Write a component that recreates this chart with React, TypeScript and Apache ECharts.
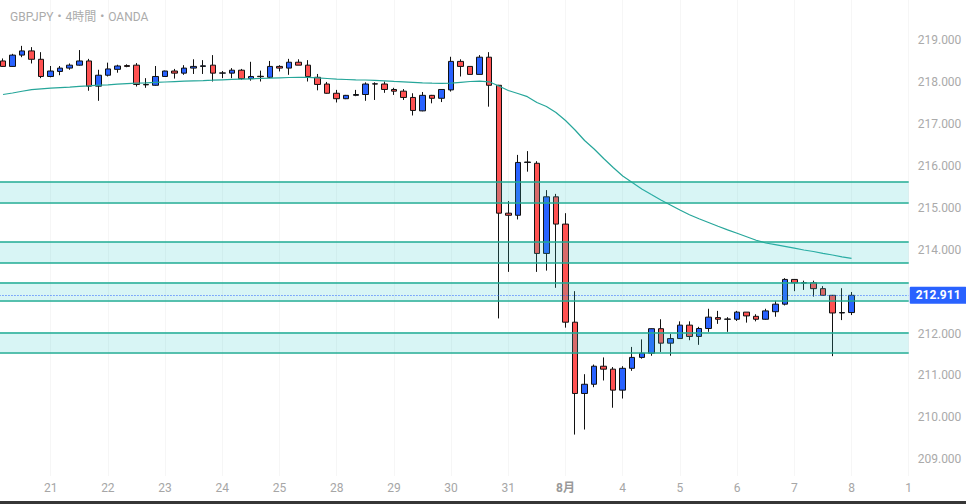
import React, { useEffect, useRef } from 'react';
import * as echarts from 'echarts';

// [open, high, low, close] per 4h candle
const candlesOHLC: number[][] = [
  [218.50, 218.56, 218.36, 218.37],
  [218.37, 218.67, 218.36, 218.64],
  [218.64, 218.86, 218.59, 218.74],
  [218.74, 218.83, 218.44, 218.54],
  [218.54, 218.71, 218.09, 218.13],
  [218.13, 218.38, 218.11, 218.26],
  [218.25, 218.38, 218.16, 218.33],
  [218.33, 218.44, 218.29, 218.40],
  [218.40, 218.76, 218.39, 218.50],
  [218.50, 218.55, 217.79, 217.90],
  [217.90, 218.29, 217.55, 218.16],
  [218.16, 218.46, 218.13, 218.31],
  [218.30, 218.41, 218.22, 218.38],
  [218.39, 218.42, 218.35, 218.37],
  [218.40, 218.45, 217.89, 217.94],
  [217.94, 218.09, 217.86, 217.93],
  [217.92, 218.38, 217.91, 218.13],
  [218.13, 218.27, 218.13, 218.26],
  [218.26, 218.31, 218.08, 218.21],
  [218.21, 218.40, 218.17, 218.33],
  [218.33, 218.54, 218.19, 218.37],
  [218.37, 218.52, 218.19, 218.385],
  [218.40, 218.64, 218.01, 218.21],
  [218.21, 218.26, 218.09, 218.215],
  [218.21, 218.33, 218.09, 218.28],
  [218.28, 218.31, 218.05, 218.08],
  [218.08, 218.48, 218.03, 218.13],
  [218.135, 218.27, 218.01, 218.125],
  [218.11, 218.50, 218.09, 218.37],
  [218.37, 218.40, 218.25, 218.33],
  [218.33, 218.55, 218.17, 218.47],
  [218.47, 218.54, 218.40, 218.40],
  [218.40, 218.52, 218.01, 218.13],
  [218.11, 218.19, 217.80, 217.94],
  [217.95, 218.00, 217.72, 217.73],
  [217.73, 217.81, 217.51, 217.60],
  [217.60, 217.69, 217.59, 217.68],
  [217.68, 217.81, 217.66, 217.70],
  [217.70, 217.99, 217.55, 217.95],
  [217.95, 217.99, 217.57, 217.955],
  [217.95, 218.01, 217.74, 217.82],
  [217.82, 217.86, 217.69, 217.78],
  [217.78, 217.83, 217.57, 217.63],
  [217.63, 217.73, 217.20, 217.32],
  [217.31, 217.76, 217.30, 217.68],
  [217.68, 217.69, 217.49, 217.61],
  [217.61, 217.83, 217.52, 217.82],
  [217.81, 218.60, 217.77, 218.49],
  [218.49, 218.54, 218.13, 218.37],
  [218.37, 218.37, 218.18, 218.18],
  [218.18, 218.64, 218.18, 218.59],
  [218.59, 218.71, 217.41, 217.92],
  [217.92, 217.93, 212.36, 214.87],
  [214.87, 215.16, 213.47, 214.82],
  [214.82, 216.26, 214.72, 216.08],
  [216.08, 216.35, 215.86, 216.09],
  [216.06, 216.11, 213.47, 213.91],
  [213.91, 215.42, 213.50, 215.26],
  [215.26, 215.33, 213.09, 214.61],
  [214.61, 214.87, 212.14, 212.27],
  [212.27, 213.01, 209.59, 210.57],
  [210.57, 211.03, 209.71, 210.79],
  [210.79, 211.26, 210.72, 211.22],
  [211.22, 211.43, 210.88, 211.15],
  [211.15, 211.20, 210.23, 210.65],
  [210.65, 211.22, 210.45, 211.17],
  [211.17, 211.68, 211.11, 211.43],
  [211.43, 211.86, 211.40, 211.53],
  [211.53, 212.12, 211.47, 212.115],
  [212.115, 212.34, 211.56, 211.77],
  [211.77, 211.99, 211.47, 211.88],
  [211.88, 212.29, 211.87, 212.20],
  [212.20, 212.29, 211.84, 211.93],
  [211.93, 212.16, 211.73, 212.12],
  [212.12, 212.59, 212.04, 212.39],
  [212.38, 212.54, 212.23, 212.34],
  [212.34, 212.39, 212.04, 212.345],
  [212.34, 212.54, 212.30, 212.51],
  [212.51, 212.51, 212.26, 212.42],
  [212.41, 212.46, 212.29, 212.34],
  [212.34, 212.59, 212.33, 212.54],
  [212.52, 212.78, 212.40, 212.70],
  [212.70, 213.32, 212.67, 213.29],
  [213.29, 213.30, 213.01, 213.21],
  [213.21, 213.26, 213.04, 213.205],
  [213.21, 213.26, 212.88, 213.07],
  [213.07, 213.13, 212.90, 212.911],
  [212.911, 212.92, 211.46, 212.49],
  [212.49, 213.08, 212.32, 212.50],
  [212.50, 212.99, 212.44, 212.911],
];

const movingAverage: number[] = [
  217.700, 217.736, 217.777, 217.817, 217.836, 217.851, 217.865, 217.877, 217.896, 217.908,
  217.922, 217.932, 217.946, 217.960, 217.970, 217.979, 217.989, 217.998, 218.008, 218.017,
  218.025, 218.032, 218.041, 218.051, 218.060, 218.068, 218.075, 218.082, 218.089, 218.099,
  218.106, 218.110, 218.110, 218.099, 218.082, 218.065, 218.058, 218.051, 218.046, 218.037,
  218.025, 218.013, 218.003, 217.991, 217.979, 217.970, 217.965, 217.970, 217.991, 218.010,
  218.017, 218.003, 217.903, 217.796, 217.724, 217.648, 217.509, 217.414, 217.271, 217.080,
  216.854, 216.603, 216.401, 216.174, 215.959, 215.757, 215.602, 215.447, 215.315, 215.184,
  215.065, 214.946, 214.834, 214.736, 214.648, 214.559, 214.473, 214.390, 214.307, 214.225,
  214.159, 214.121, 214.078, 214.035, 213.992, 213.956, 213.913, 213.872, 213.830, 213.794,
];

const dayLabelIndex = [5, 11, 17, 23, 29, 35, 41, 47, 53, 59, 65, 71, 77, 83, 89, 95];
const dayLabelText = ['21', '22', '23', '24', '25', '28', '29', '30', '31', '8月', '4', '5', '6', '7', '8', '1'];
// 213.000 is hidden behind the last-price tag in the reference
const priceTicks = [209, 210, 211, 212, 214, 215, 216, 217, 218, 219];
const zoneTop = [215.606, 214.183, 213.221, 212.029];
const zoneBottom = [215.129, 213.682, 212.792, 211.552];
const lastPrice = 212.911;
const chartTitle = 'GBPJPY・4時間・OANDA';
const firstSlot = -1;
const lastSlot = 95;

const FONT = "Roboto, 'Noto Sans CJK JP', sans-serif";

export default function App() {
  const ref = useRef<HTMLDivElement>(null);

  useEffect(() => {
    if (!ref.current) return;
    const chart = echarts.init(ref.current, null, { renderer: 'svg' });

    const slots: string[] = [];
    for (let i = firstSlot; i <= lastSlot; i++) slots.push(String(i));

    const labelMap = new Map<string, string>();
    dayLabelIndex.forEach((idx, n) => labelMap.set(String(idx), dayLabelText[n]));

    const candleData: any[] = slots.map((s) => {
      const i = Number(s);
      const c = candlesOHLC[i];
      if (!c) return '-';
      return [c[0], c[3], c[2], c[1]];
    });
    const maData: any[] = slots.map((s) => {
      const v = movingAverage[Number(s)];
      return v === undefined ? '-' : v;
    });

    const showAt = (_idx: number, value: string) => labelMap.has(value);

    const zoneAreas = zoneTop.map((t, n) => [{ yAxis: t }, { yAxis: zoneBottom[n] }]);
    const zoneLines: any[] = [];
    zoneTop.forEach((t, n) => {
      zoneLines.push({ yAxis: t });
      zoneLines.push({ yAxis: zoneBottom[n] });
    });

    const option: any = {
      animation: false,
      backgroundColor: '#ffffff',
      title: {
        text: chartTitle,
        left: 5,
        top: 6,
        textStyle: { fontSize: 12, color: '#ababab', fontWeight: 'normal', fontFamily: FONT },
      },
      grid: {
        left: -6.53,
        top: 0,
        width: 915.26,
        height: 476,
        containLabel: false,
        outerBoundsMode: 'none',
      },
      xAxis: {
        type: 'category',
        data: slots,
        boundaryGap: false,
        axisLine: { show: false },
        axisTick: { show: false, interval: showAt },
        splitLine: { show: true, interval: showAt, lineStyle: { color: '#f6f6f6', width: 1 } },
        axisLabel: {
          interval: showAt,
          margin: 6,
          fontSize: 12,
          color: '#a6a6a6',
          fontFamily: FONT,
          formatter: (v: string) => {
            const t = labelMap.get(v) ?? '';
            return t === '8月' ? `{b|${t}}` : t;
          },
          rich: { b: { fontWeight: 'bold', color: '#999999', fontSize: 12, fontFamily: FONT } },
        },
      },
      yAxis: {
        type: 'value',
        position: 'right',
        min: 208.602,
        max: 219.954,
        scale: true,
        axisLine: { show: false },
        axisTick: { show: false },
        splitLine: { show: false },
        axisLabel: {
          customValues: priceTicks,
          formatter: (v: number) => v.toFixed(3),
          color: '#aaaaaa',
          fontSize: 12,
          margin: 9,
          fontFamily: FONT,
        },
      },
      graphic: [
        { type: 'rect', shape: { x: 0, y: 501, width: 966, height: 3 }, style: { fill: '#363636' }, z: 10 },
      ],
      series: [
        {
          type: 'candlestick',
          data: candleData,
          barWidth: 6,
          z: 2,
          itemStyle: {
            color: '#2962ff',
            color0: '#ff5252',
            borderColor: '#111111',
            borderColor0: '#111111',
            borderColorDoji: '#111111',
            borderWidth: 1,
          },
          markLine: {
            silent: true,
            symbol: ['none', 'none'],
            z: 6,
            lineStyle: { color: '#2962ff', type: [1, 2], width: 1 },
            label: {
              show: true,
              position: 'end',
              distance: 1,
              formatter: lastPrice.toFixed(3),
              color: '#ffffff',
              backgroundColor: '#2962ff',
              fontWeight: 'bold',
              fontSize: 12,
              fontFamily: FONT,
              padding: [3, 6, 2, 6],
              borderRadius: 1,
            },
            data: [{ yAxis: lastPrice }],
          },
        },
        {
          type: 'line',
          data: maData,
          symbol: 'none',
          z: 3,
          lineStyle: { color: '#26a69a', width: 1.2 },
          markArea: {
            silent: true,
            z: 4,
            itemStyle: { color: 'rgba(60,205,205,0.2)' },
            data: zoneAreas,
          },
          markLine: {
            silent: true,
            z: 5,
            symbol: ['none', 'none'],
            label: { show: false },
            lineStyle: { color: '#1fab93', width: 1.5, type: 'solid' },
            data: zoneLines,
          },
        },
      ],
    };

    chart.setOption(option);
    return () => chart.dispose();
  }, []);

  return (
    <div
      ref={ref}
      style={{ position: 'fixed', left: 0, top: 0, width: 966, height: 504, background: '#fff' }}
    />
  );
}
